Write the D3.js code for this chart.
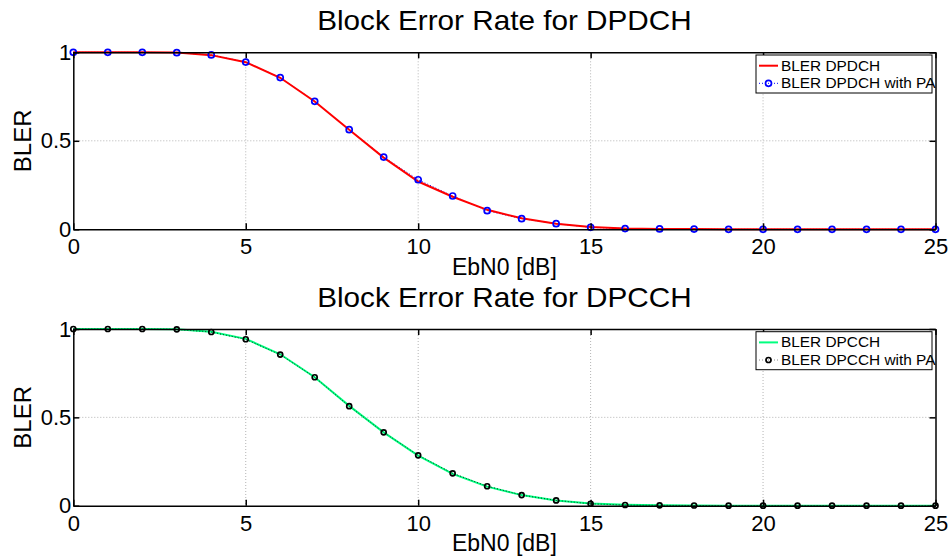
<!DOCTYPE html>
<html>
<head>
<meta charset="utf-8">
<script src="https://cdn.jsdelivr.net/npm/d3@7/dist/d3.min.js"></script>
<style>
  body { margin: 0; background: #fff; }
  svg { display: block; }
  text { font-family: "Liberation Sans", Arial, Helvetica, sans-serif; fill: #000; }
</style>
</head>
<body>
<svg id="chart" width="952" height="558"></svg>
<script>
// Eb/N0 sweep in dB
const ebn0 = [0, 1, 2, 3, 4, 5, 6, 7, 8, 9, 10, 11, 12, 13, 14, 15, 16, 17, 18, 19, 20, 21, 22, 23, 24, 25];

// Block error rate, data channel (without / with power amplifier)
const blerDPDCH   = [1, 1, 1, 0.999, 0.984, 0.944, 0.856, 0.722, 0.562, 0.405, 0.270, 0.184, 0.110, 0.062, 0.032, 0.013, 0.005, 0.002, 0.001, 0, 0, 0, 0, 0, 0, 0];
const blerDPDCHpa = [1, 1, 1, 0.998, 0.985, 0.945, 0.857, 0.723, 0.563, 0.408, 0.280, 0.188, 0.105, 0.060, 0.032, 0.011, 0.004, 0.002, 0.001, 0, 0, 0, 0, 0, 0, 0];

// Block error rate, control channel (without / with power amplifier)
const blerDPCCH   = [1, 1, 1, 0.999, 0.985, 0.944, 0.857, 0.727, 0.565, 0.415, 0.283, 0.180, 0.108, 0.060, 0.030, 0.012, 0.005, 0.002, 0.001, 0, 0, 0, 0, 0, 0, 0];
const blerDPCCHpa = [1, 1, 1, 0.998, 0.983, 0.942, 0.855, 0.727, 0.563, 0.415, 0.285, 0.183, 0.110, 0.060, 0.030, 0.011, 0.004, 0.002, 0.001, 0, 0, 0, 0, 0, 0, 0];

const xTicks = [0, 5, 10, 15, 20, 25];
const yTicks = [0, 0.5, 1];
const xLabel = "EbN0 [dB]";
const yLabel = "BLER";

const titles = ["Block Error Rate for DPDCH", "Block Error Rate for DPCCH"];
const legendNames = [
  ["BLER DPDCH", "BLER DPDCH with PA"],
  ["BLER DPCCH", "BLER DPCCH with PA"]
];

const svg = d3.select("#chart");
const left = 73.3, right = 935.5;
const x = d3.scaleLinear().domain([0, 25]).range([left, right]);

const panels = [
  { top: 52.3, bottom: 229.3, title: titles[0], names: legendNames[0],
    line: blerDPDCH, pa: blerDPDCHpa, lineColor: "#ff0000", paColor: "#0000ff", paLegend: "#0000ff" },
  { top: 329.0, bottom: 505.7, title: titles[1], names: legendNames[1],
    line: blerDPCCH, pa: blerDPCCHpa, lineColor: "#00ff7f", paColor: "#000000", paLegend: "#888888" }
];

panels.forEach(p => {
  const y = d3.scaleLinear().domain([0, 1]).range([p.bottom, p.top]);
  const g = svg.append("g");

  // dotted grid
  const grid = g.append("g").attr("stroke", "#b4b4b4").attr("stroke-width", 1)
    .attr("stroke-dasharray", "1,2");
  grid.selectAll(".gx").data(xTicks.filter(t => t > 0 && t < 25)).join("line")
    .attr("x1", d => x(d)).attr("x2", d => x(d))
    .attr("y1", p.top).attr("y2", p.bottom);
  grid.selectAll(".gy").data(yTicks.filter(t => t > 0 && t < 1)).join("line")
    .attr("x1", left).attr("x2", right)
    .attr("y1", d => y(d)).attr("y2", d => y(d));

  // series: solid reference curve, dotted PA curve with open circle markers
  const path = d3.line().x((d, i) => x(ebn0[i])).y(d => y(d));
  g.append("path").datum(p.pa).attr("d", path).attr("fill", "none")
    .attr("stroke", p.paColor).attr("stroke-width", 1).attr("stroke-dasharray", "1,2");
  g.append("path").datum(p.line).attr("d", path).attr("fill", "none")
    .attr("stroke", p.lineColor).attr("stroke-width", 2);
  if (p.paColor === "#000000") {
    g.append("path").datum(p.pa).attr("d", path).attr("fill", "none")
      .attr("stroke", p.paColor).attr("stroke-width", 1).attr("stroke-dasharray", "1,2")
      .attr("opacity", 0.7);
  }
  g.selectAll(".mk").data(p.pa).join("circle")
    .attr("cx", (d, i) => x(ebn0[i])).attr("cy", d => y(d))
    .attr("r", p.paColor === "#000000" ? 2.5 : 3)
    .attr("fill", "none").attr("stroke", p.paColor).attr("stroke-width", 1.7);

  // axes with inward ticks
  const axStyle = sel => {
    sel.selectAll("path, line").attr("stroke", "#000").attr("stroke-width", 1.5);
    sel.selectAll("text").attr("font-size", 22).attr("fill", "#000")
      .style("font-family", '"Liberation Sans", Arial, sans-serif');
  };
  g.append("g").attr("transform", `translate(0,${p.bottom})`)
    .call(d3.axisBottom(x).tickValues(xTicks).tickSize(-6).tickSizeOuter(0)
      .tickPadding(9.4).tickFormat(d3.format("d")))
    .call(axStyle);
  g.append("g").attr("transform", `translate(0,${p.top})`)
    .call(d3.axisTop(x).tickValues(xTicks).tickSize(-6).tickSizeOuter(0).tickFormat(""))
    .call(axStyle);
  g.append("g").attr("transform", `translate(${left},0)`)
    .call(d3.axisLeft(y).tickValues(yTicks).tickSize(-6).tickSizeOuter(0)
      .tickPadding(2).tickFormat(d => String(d)))
    .call(axStyle);
  g.append("g").attr("transform", `translate(${right},0)`)
    .call(d3.axisRight(y).tickValues(yTicks).tickSize(-6).tickSizeOuter(0).tickFormat(""))
    .call(axStyle);

  // title (slightly wide-set face) and axis labels
  g.append("text")
    .attr("transform", `translate(${(left + right) / 2},${p.top - 22}) scale(1.1,1)`)
    .attr("text-anchor", "middle").attr("font-size", 27).text(p.title);
  g.append("text").attr("x", (left + right) / 2).attr("y", p.bottom + 45.2)
    .attr("text-anchor", "middle").attr("font-size", 23).text(xLabel);
  g.append("text")
    .attr("transform", `translate(31,${(p.top + p.bottom) / 2}) rotate(-90)`)
    .attr("text-anchor", "middle").attr("font-size", 24).text(yLabel);

  // legend
  const lg = g.append("g").attr("transform", `translate(756,${p.top + 2.7})`);
  lg.append("rect").attr("width", 176).attr("height", 38)
    .attr("fill", "#fff").attr("stroke", "#000").attr("stroke-width", 1);
  lg.append("line").attr("x1", 3).attr("x2", 22).attr("y1", 10.7).attr("y2", 10.7)
    .attr("stroke", p.lineColor).attr("stroke-width", 2);
  lg.append("line").attr("x1", 3).attr("x2", 22).attr("y1", 28.3).attr("y2", 28.3)
    .attr("stroke", p.paLegend).attr("stroke-width", 1).attr("stroke-dasharray", "1,2");
  lg.append("circle").attr("cx", 12.5).attr("cy", 28.3)
    .attr("r", p.paColor === "#000000" ? 2.5 : 3)
    .attr("fill", "none").attr("stroke", p.paColor).attr("stroke-width", 1.7);
  lg.selectAll(".lt").data(p.names).join("text")
    .attr("transform", (d, i) => `translate(25,${10.7 + i * 17.6}) scale(1.1,1)`)
    .attr("dy", "0.36em").attr("font-size", 14).text(d => d);
});
</script>
</body>
</html>
